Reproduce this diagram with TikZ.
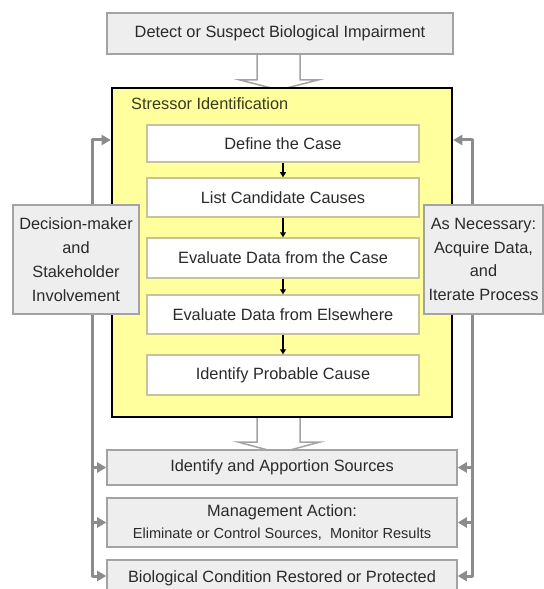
\documentclass[tikz,border=0pt]{standalone}
\usepackage{fontspec}
\setmainfont{Liberation Sans}
\usetikzlibrary{arrows.meta}
\definecolor{boxgray}{HTML}{EEEEEE}
\definecolor{edgegray}{HTML}{A3A3A3}
\definecolor{linegray}{HTML}{8C8C8C}
\definecolor{yel}{HTML}{FFFF9E}
\definecolor{inneredge}{HTML}{C6C29A}
\definecolor{txt}{HTML}{2A2A2A}
\definecolor{olive}{HTML}{3A3A1C}
\newcommand{\mysmalltext}{\fontsize{14.6}{16}\selectfont}
\begin{document}
\begin{tikzpicture}[x=1bp,y=-1bp,
  graybox/.style={draw=edgegray, line width=1.5bp, fill=boxgray, text=txt,
    font=\fontsize{16.4}{24}\selectfont, align=center, inner sep=0pt},
  whitebox/.style={draw=inneredge, line width=1.5bp, fill=white, text=txt,
    font=\fontsize{16.4}{20}\selectfont, align=center, inner sep=0pt,
    minimum width=272bp},
  yelbox/.style={draw=black, line width=2.5bp, fill=yel, inner sep=0pt},
  fb/.style={draw=linegray, line width=3bp, line join=round,
    -{Triangle[length=9bp,width=10bp]}},
  flowarrow/.style={draw=black, line width=1.5bp,
    -{Triangle[length=5bp,width=6bp]}},
  blockarrow/.style={draw=edgegray, line width=1.5bp, fill=white, line join=miter}
]
\useasboundingbox (0,0) rectangle (544,589);
\clip (0,0) rectangle (544,589);
\fill[white] (0,0) rectangle (544,589);

% block arrows (behind boxes)
\draw[blockarrow] (257,50) -- (257,80) -- (240,80) -- (279,90) -- (318,80) -- (300,80) -- (300,50) -- cycle;
\draw[blockarrow] (257,412) -- (257,442) -- (238,442) -- (279,453) -- (320,442) -- (300,442) -- (300,412) -- cycle;

% top box
\node[graybox, minimum width=346bp, minimum height=41bp] (top) at (280,33.5) {Detect or Suspect Biological Impairment};

% yellow stressor identification box
\node[yelbox, minimum width=340bp, minimum height=329bp] (Y) at (282,252.5) {};
\node[anchor=west, text=olive, font=\fontsize{16.4}{20}\selectfont, inner sep=0pt] (SIt) at (131,104) {Stressor Identification};

% inner steps
\node[whitebox, minimum height=37bp] (S1) at (283,143.5) {Define the Case};
\node[whitebox, minimum height=39bp] (S2) at (283,197.5) {List Candidate Causes};
\node[whitebox, minimum height=40bp] (S3) at (283,258) {Evaluate Data from the Case};
\node[whitebox, minimum height=39bp] (S4) at (283,314.5) {Evaluate Data from Elsewhere};
\node[whitebox, minimum height=40bp] (S5) at (283,375) {Identify Probable Cause};

\draw[flowarrow] (S1.south) -- (S2.north);
\draw[flowarrow] (S2.south) -- (S3.north);
\draw[flowarrow] (S3.south) -- (S4.north);
\draw[flowarrow] (S4.south) -- (S5.north);

% bottom boxes
\node[graybox, minimum width=350bp, minimum height=35bp] (B1) at (282,467.5) {Identify and Apportion Sources};
\node[graybox, minimum width=350bp, minimum height=49bp] (B2) at (282,522.5) {Management Action:\\[-1bp]{\mysmalltext Eliminate or Control Sources,\ \ Monitor Results}};
\node[graybox, minimum width=350bp, minimum height=36bp] (B3) at (282,578) {Biological Condition Restored or Protected};

% feedback lines
\coordinate (LT) at (92,140);
\coordinate (RT) at (472,140);
\coordinate (LB) at (92,576);
\coordinate (RB) at (472,576);
\draw[fb] (LB) -- (LT) -- (LT -| Y.west);
\draw[fb] (RB) -- (RT) -- (RT -| Y.east);
\draw[fb] (B1.west -| LT) -- (B1.west);
\draw[fb] (B2.west -| LT) -- (B2.west);
\draw[fb] (92,570) -- (LB) -- (LB -| B3.west);
\draw[fb] (B1.east -| RT) -- (B1.east);
\draw[fb] (B2.east -| RT) -- (B2.east);
\draw[fb] (472,570) -- (RB) -- (RB -| B3.east);

% side boxes
\node[graybox, minimum width=126bp, minimum height=109bp] (L) at (76,259.5) {Decision-maker\\and\\Stakeholder\\Involvement};
\node[graybox, minimum width=119bp, minimum height=109bp] (R) at (483.5,259.5) {As Necessary:\\Acquire Data,\\and\\Iterate Process};
\end{tikzpicture}
\end{document}
